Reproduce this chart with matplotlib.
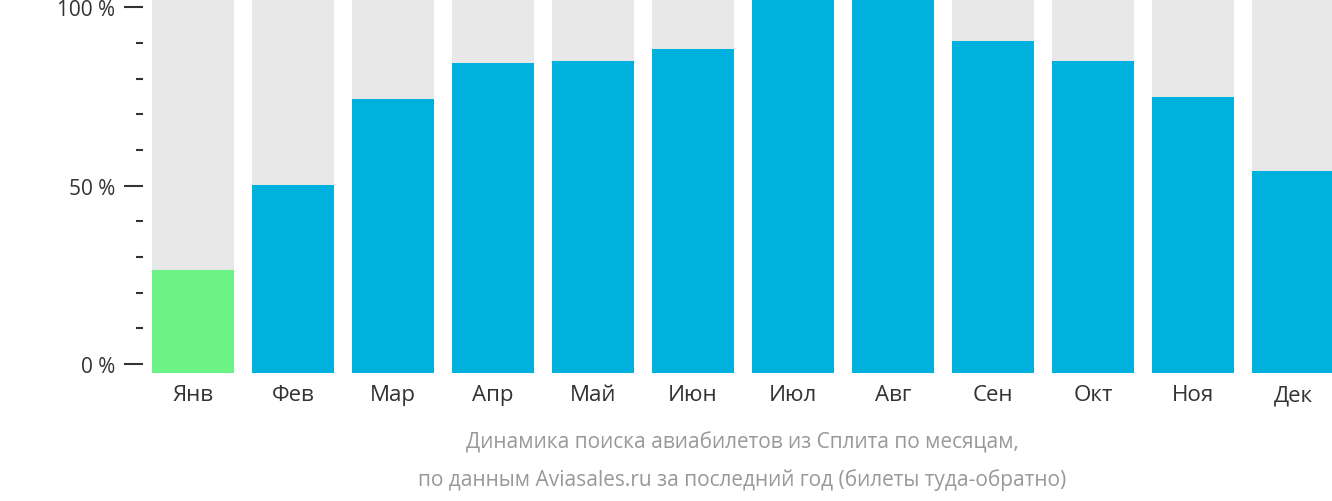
import matplotlib
matplotlib.use("Agg")
import matplotlib.pyplot as plt
from matplotlib.ticker import MultipleLocator

months = ["Янв","Фев","Мар","Апр","Май","Июн","Июл","Авг","Сен","Окт","Ноя","Дек"]
values = [26.3, 50.1, 74.2, 84.3, 84.9, 88.2, 102.3, 102.3, 90.5, 84.9, 74.8, 54.0]
yticks = [0, 50, 100]
ytick_labels = ["0 %", "50 %", "100 %"]

plt.rcParams["font.family"] = "Open Sans"
W, H = 1332, 502
fig = plt.figure(figsize=(W/100, H/100), dpi=100)
ax = fig.add_axes([143/W, 1-374/H, (1332-143)/W, 374/H])
lo, hi = -2.5, 102.3
x = list(range(len(months)))
ax.bar(x, [hi-lo]*len(x), bottom=lo, width=0.82, color="#e8e8e8")
colors = ["#6cf385" if i == 0 else "#00b1dd" for i in x]
ax.bar(x, [v-lo for v in values], bottom=lo, width=0.82, color=colors)
ax.set_xlim(-0.5, 11.39)
ax.set_ylim(lo, hi)
for s in ax.spines.values():
    s.set_visible(False)
ax.set_yticks(yticks)
ax.set_yticklabels(ytick_labels, fontsize=15, color="#333333")
ax.yaxis.set_minor_locator(MultipleLocator(10))
ax.tick_params(axis="y", which="major", length=14, width=1.5, color="#333333", pad=6)
ax.tick_params(axis="y", which="minor", length=5, width=1.5, color="#333333")
ax.set_xticks(x)
ax.set_xticklabels(months, fontsize=16, color="#333333")
ax.tick_params(axis="x", length=0, pad=8)
fig.text(742/W, 1-443/H, "Динамика поиска авиабилетов из Сплита по месяцам,", ha="center", va="center", fontsize=15, color="#999999")
fig.text(742/W, 1-480/H, "по данным Aviasales.ru за последний год (билеты туда-обратно)", ha="center", va="center", fontsize=15, color="#999999")
fig.savefig("out.png", dpi=100)
